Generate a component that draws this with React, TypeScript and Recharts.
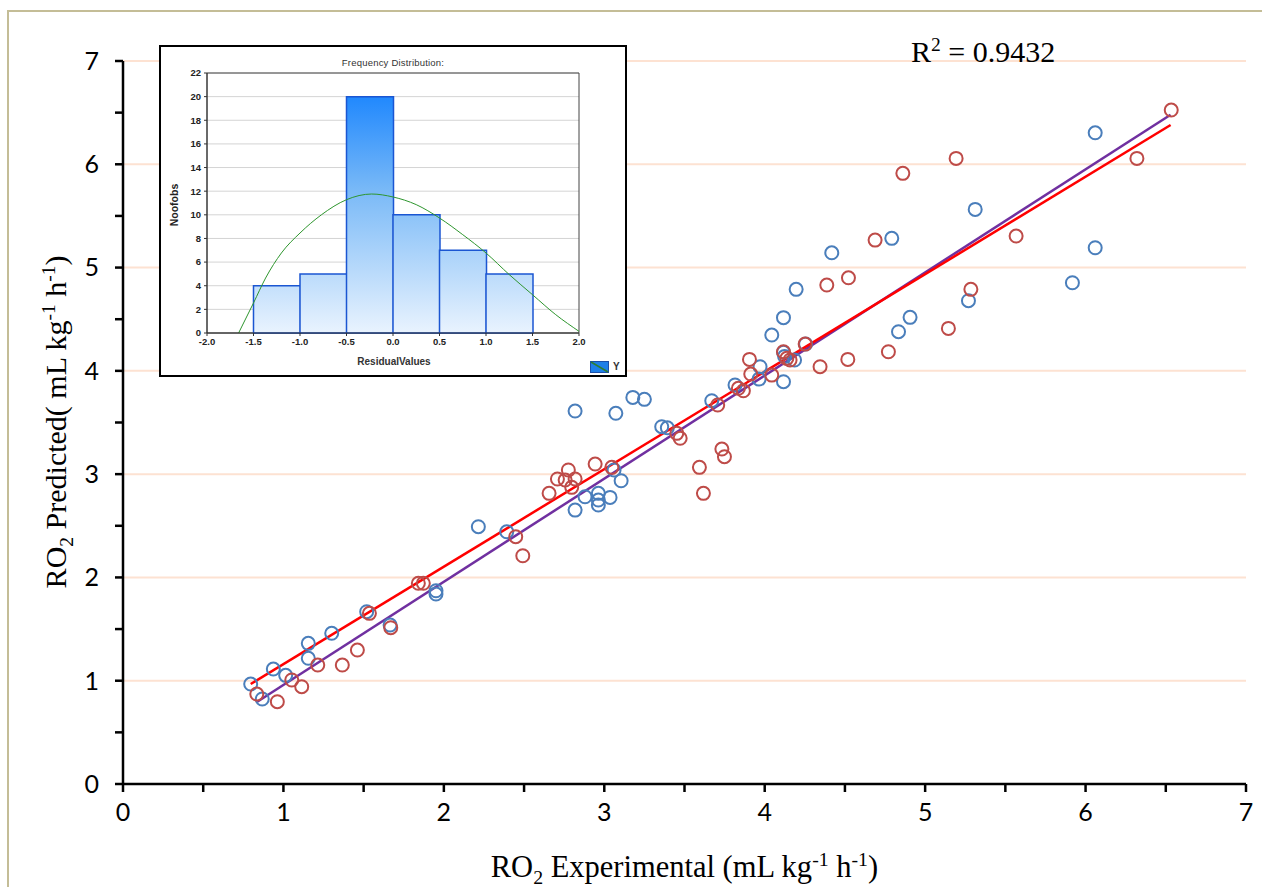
import React from 'react';
import {
  ComposedChart,
  Scatter,
  Line,
  Bar,
  XAxis,
  YAxis,
  ReferenceLine,
  ReferenceArea,
  CartesianGrid,
} from 'recharts';

// ---------- main scatter data (Experimental, Predicted) ----------
const blueObs: [number, number][] = [
  [0.796, 0.968], [0.937, 1.113], [1.014, 1.052], [0.868, 0.823], [1.155, 1.362],
  [1.155, 1.217], [1.301, 1.459], [1.519, 1.668], [1.665, 1.539], [1.951, 1.871],
  [1.951, 1.839], [2.215, 2.491], [2.392, 2.442], [2.818, 3.611], [3.072, 3.589],
  [3.178, 3.743], [3.25, 3.724], [3.358, 3.459], [3.393, 3.449], [3.67, 3.711],
  [3.815, 3.863], [3.061, 3.04], [3.105, 2.936], [2.88, 2.781], [2.963, 2.814],
  [2.963, 2.749], [2.963, 2.701], [3.036, 2.775], [2.818, 2.652], [3.971, 4.04],
  [3.965, 3.92], [4.117, 3.895], [4.044, 4.347], [4.117, 4.18], [4.124, 4.14],
  [4.186, 4.105], [4.255, 4.26], [4.117, 4.515], [4.196, 4.789], [4.418, 5.143],
  [4.792, 5.283], [5.312, 5.563], [6.06, 5.192], [5.918, 4.853], [5.27, 4.679],
  [4.906, 4.518], [4.834, 4.379], [6.06, 6.305],
];
const redObs: [number, number][] = [
  [0.834, 0.871], [1.052, 1.007], [1.114, 0.942], [0.962, 0.797], [1.214, 1.152],
  [1.367, 1.152], [1.461, 1.297], [1.536, 1.652], [1.669, 1.513], [1.841, 1.943],
  [1.872, 1.943], [2.448, 2.394], [2.492, 2.21], [2.656, 2.814], [2.708, 2.953],
  [2.776, 3.04], [2.756, 2.943], [2.818, 2.953], [2.797, 2.872], [2.943, 3.098],
  [3.047, 3.066], [3.452, 3.395], [3.473, 3.347], [3.593, 3.066], [3.618, 2.814],
  [3.733, 3.243], [3.749, 3.169], [3.707, 3.669], [3.836, 3.831], [3.867, 3.807],
  [3.905, 4.111], [3.913, 3.969], [4.044, 3.959], [4.117, 4.185], [4.138, 4.121],
  [4.158, 4.105], [4.252, 4.259], [4.345, 4.04], [4.518, 4.111], [4.771, 4.185],
  [4.387, 4.831], [4.522, 4.901], [4.688, 5.266], [4.861, 5.912], [5.193, 6.057],
  [5.567, 5.305], [5.285, 4.789], [5.145, 4.411], [6.32, 6.057], [6.534, 6.525],
];
const redFitLine: [number, number][] = [[0.796, 0.968], [6.53, 6.38]];
const purpleFitLine: [number, number][] = [[0.837, 0.797], [6.53, 6.48]];
const mainTicks = [0, 0.5, 1, 1.5, 2, 2.5, 3, 3.5, 4, 4.5, 5, 5.5, 6, 6.5, 7];
const gridLevels = [1, 2, 3, 4, 5, 6, 7];
const rSquared = '0.9432';

// ---------- inset histogram data ----------
const binStarts = ['-2.0', '-1.5', '-1.0', '-0.5', '0.0', '0.5', '1.0', '1.5'];
const binCounts = [0, 4, 5, 20, 10, 7, 5, 0];
const curveResidual = [-1.66, -1.5, -1.37, -1.2, -1.0, -0.77, -0.5, -0.23, 0, 0.25, 0.5, 0.75, 1.0, 1.25, 1.5, 1.75, 2.0];
const curveCount = [0, 2.54, 4.65, 6.77, 8.46, 10.0, 11.28, 11.76, 11.51, 10.86, 9.73, 8.32, 6.77, 4.94, 3.24, 1.55, 0.14];
const histXTicks = [-2, -1.5, -1, -0.5, 0, 0.5, 1, 1.5, 2];
const histYTicks = [0, 2, 4, 6, 8, 10, 12, 14, 16, 18, 20, 22];

const toPts = (arr: [number, number][]) => arr.map(([x, y]) => ({ x, y }));
const bluePts = toPts(blueObs);
const redPts = toPts(redObs);
const redFitPts = toPts(redFitLine);
const purpleFitPts = toPts(purpleFitLine);
const histData = binStarts.map((b, i) => ({ bin: b, count: binCounts[i] }));
const curveData = curveResidual.map((r, i) => ({ rx: r, fy: curveCount[i] }));

const ring = (color: string) => (props: any) => {
  const { cx, cy } = props;
  if (cx == null || cy == null) return <g />;
  return <circle cx={cx} cy={cy} r={6.5} fill="none" stroke={color} strokeWidth={2} />;
};

const TICK_FONT = 'Lato, "Open Sans", sans-serif';
const SERIF = '"Liberation Serif", "DejaVu Serif", serif';
const INSET_FONT = '"Liberation Sans", Arial, sans-serif';

function Inset() {
  return (
    <div
      style={{
        position: 'absolute',
        left: 159,
        top: 45,
        width: 468,
        height: 332,
        boxSizing: 'border-box',
        border: '2px solid #000',
        background: '#fff',
      }}
    >
      <div style={{ position: 'absolute', left: -2, top: -2 }}>
        <ComposedChart
          width={468}
          height={332}
          data={histData}
          margin={{ top: 28, right: 48, bottom: 14, left: 8 }}
          barCategoryGap={0}
          barGap={0}
        >
          <defs>
            <linearGradient id="histGrad" gradientUnits="userSpaceOnUse" x1="0" y1="28" x2="0" y2="288">
              <stop offset="0%" stopColor="#0a7cff" />
              <stop offset="45%" stopColor="#79b9f7" />
              <stop offset="100%" stopColor="#e9f3fe" />
            </linearGradient>
          </defs>
          <CartesianGrid xAxisId="num" vertical={false} stroke="#d4d4d4" strokeWidth={1} />
          <XAxis xAxisId="cat" dataKey="bin" type="category" orientation="top" height={0} hide />
          <XAxis
            xAxisId="num"
            dataKey="rx"
            type="number"
            domain={[-2, 2]}
            ticks={histXTicks}
            allowDataOverflow
            tickFormatter={(v: number) => v.toFixed(1)}
            height={30}
            tickSize={3}
            tickMargin={2}
            axisLine={{ stroke: '#333' }}
            tickLine={{ stroke: '#333' }}
            tick={{ fontSize: 9.5, fill: '#222', fontFamily: INSET_FONT, fontWeight: 'bold' }}
          />
          <YAxis
            domain={[0, 22]}
            ticks={histYTicks}
            width={40}
            tickSize={3}
            tickMargin={3}
            axisLine={{ stroke: '#333' }}
            tickLine={{ stroke: '#333' }}
            tick={{ fontSize: 9.5, fill: '#222', fontFamily: INSET_FONT, fontWeight: 'bold' }}
          />
          <ReferenceArea xAxisId="num" x1={-2} x2={2} y1={0} y2={22} fill="none" stroke="#444" strokeWidth={1} ifOverflow="visible" />
          <Bar
            xAxisId="cat"
            dataKey="count"
            fill="url(#histGrad)"
            stroke="#1b56d2"
            strokeWidth={1.5}
            isAnimationActive={false}
          />
          <Line
            xAxisId="num"
            data={curveData}
            dataKey="fy"
            type="monotone"
            stroke="#2e962e"
            strokeWidth={1}
            dot={false}
            isAnimationActive={false}
          />
        </ComposedChart>
      </div>
      <div
        style={{
          position: 'absolute',
          left: 0,
          width: 464,
          top: 10,
          textAlign: 'center',
          fontFamily: INSET_FONT,
          fontSize: 9.5,
          color: '#333',
          letterSpacing: 0.2,
        }}
      >
        Frequency Distribution:
      </div>
      <div
        style={{
          position: 'absolute',
          left: 178,
          width: 110,
          top: 309,
          textAlign: 'center',
          fontFamily: INSET_FONT,
          fontSize: 10,
          color: '#333',
          fontWeight: 'bold',
        }}
      >
        ResidualValues
      </div>
      <div
        style={{
          position: 'absolute',
          left: 13,
          top: 158,
          width: 0,
          height: 0,
        }}
      >
        <div
          style={{
            position: 'absolute',
            transform: 'translate(-50%, -50%) rotate(-90deg)',
            whiteSpace: 'nowrap',
            fontFamily: INSET_FONT,
            fontSize: 10.5,
            fontWeight: 'bold',
            color: '#222',
          }}
        >
          Noofobs
        </div>
      </div>
      <svg style={{ position: 'absolute', left: 429, top: 314 }} width={20} height={13}>
        <rect x={0.5} y={0.5} width={18} height={11} fill="#1e7fe8" stroke="#1b4fa8" />
        <line x1={1} y1={1} x2={18} y2={11} stroke="#2e7d32" strokeWidth={1.5} />
      </svg>
      <div
        style={{
          position: 'absolute',
          left: 452,
          top: 314,
          fontFamily: INSET_FONT,
          fontSize: 10,
          fontWeight: 'bold',
          color: '#333',
        }}
      >
        Y
      </div>
    </div>
  );
}

export default function App() {
  return (
    <div
      style={{
        position: 'absolute',
        left: 0,
        top: 0,
        width: 1262,
        height: 887,
        background: '#fff',
        overflow: 'hidden',
      }}
    >
      <div
        style={{
          position: 'absolute',
          left: 7,
          top: 10,
          width: 1300,
          height: 1000,
          borderTop: '2px solid #c4bd97',
          borderLeft: '2px solid #c4bd97',
        }}
      />
      <div style={{ position: 'absolute', left: 0, top: 0 }}>
        <ComposedChart width={1262} height={887} margin={{ top: 61, right: 16, bottom: 43, left: 63 }}>
          {gridLevels.map((g) => (
            <ReferenceLine key={g} y={g} stroke="#fde2d2" strokeWidth={2} />
          ))}
          <XAxis
            dataKey="x"
            type="number"
            domain={[0, 7]}
            ticks={mainTicks}
            interval={0}
            height={60}
            tickSize={8}
            tickMargin={11}
            tickFormatter={(v: number) => (Number.isInteger(v) ? String(v) : '')}
            axisLine={{ stroke: '#000', strokeWidth: 2.5 }}
            tickLine={{ stroke: '#000', strokeWidth: 2.5 }}
            tick={{ fontSize: 25, fill: '#000', fontFamily: TICK_FONT }}
          />
          <YAxis
            dataKey="y"
            type="number"
            domain={[0, 7]}
            ticks={mainTicks}
            interval={0}
            width={60}
            tickSize={8}
            tickMargin={16}
            tickFormatter={(v: number) => (Number.isInteger(v) ? String(v) : '')}
            axisLine={{ stroke: '#000', strokeWidth: 2.5 }}
            tickLine={{ stroke: '#000', strokeWidth: 2.5 }}
            tick={{ fontSize: 25, fill: '#000', fontFamily: TICK_FONT }}
          />
          <Scatter name="Set A" data={bluePts} shape={ring('#4a7ebb')} isAnimationActive={false} />
          <Scatter name="Set B" data={redPts} shape={ring('#be4b48')} isAnimationActive={false} />
          <Line
            data={purpleFitPts}
            dataKey="y"
            type="linear"
            stroke="#7030a0"
            strokeWidth={2.5}
            dot={false}
            isAnimationActive={false}
          />
          <Line
            data={redFitPts}
            dataKey="y"
            type="linear"
            stroke="#ff0000"
            strokeWidth={2.5}
            dot={false}
            isAnimationActive={false}
          />
        </ComposedChart>
      </div>

      {/* axis titles */}
      <div
        style={{
          position: 'absolute',
          left: 123,
          width: 1123,
          top: 840,
          textAlign: 'center',
          fontFamily: SERIF,
          fontSize: 30.5,
          color: '#000',
          whiteSpace: 'nowrap',
          lineHeight: '38px',
        }}
      >
        RO<sub style={{ fontSize: '0.65em' }}>2</sub> Experimental (mL kg<sup style={{ fontSize: '0.65em' }}>-1</sup> h
        <sup style={{ fontSize: '0.65em' }}>-1</sup>)
      </div>
      <div style={{ position: 'absolute', left: 58, top: 422, width: 0, height: 0 }}>
        <div
          style={{
            position: 'absolute',
            transform: 'translate(-50%, -50%) rotate(-90deg)',
            whiteSpace: 'nowrap',
            fontFamily: SERIF,
            fontSize: 30,
            color: '#000',
            lineHeight: '38px',
          }}
        >
          RO<sub style={{ fontSize: '0.65em' }}>2</sub> Predicted( mL kg<sup style={{ fontSize: '0.65em' }}>-1</sup> h
          <sup style={{ fontSize: '0.65em' }}>-1</sup>)
        </div>
      </div>
      <div
        style={{
          position: 'absolute',
          left: 911,
          top: 26,
          fontFamily: SERIF,
          fontSize: 30,
          color: '#000',
          whiteSpace: 'nowrap',
          lineHeight: '38px',
        }}
      >
        R<sup style={{ fontSize: '0.65em' }}>2</sup> = {rSquared}
      </div>
      <Inset />
    </div>
  );
}
